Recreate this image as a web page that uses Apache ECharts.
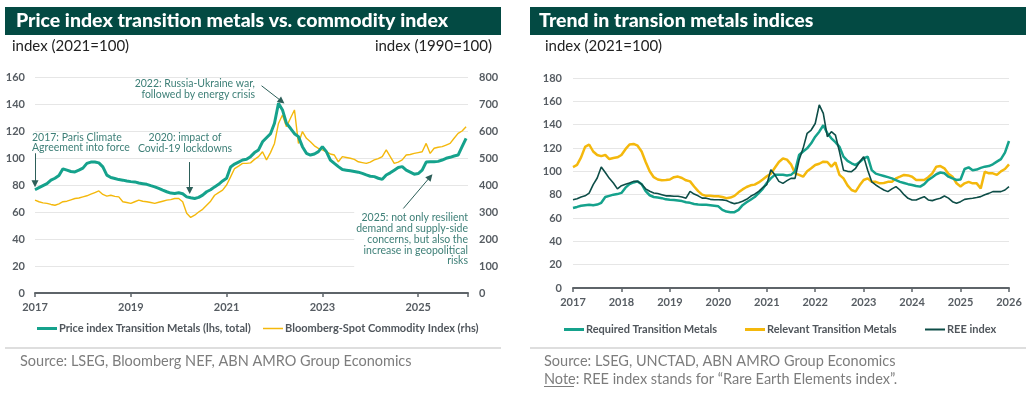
<!DOCTYPE html>
<html>
<head>
<meta charset="utf-8">
<script src="https://cdn.jsdelivr.net/npm/echarts@6/dist/echarts.min.js"></script>
<style>
html,body{margin:0;padding:0;background:#fff;}
#c{width:1031px;height:394px;}
</style>
</head>
<body>
<div id="c"></div>
<script>
// ---- Data (monthly, Jan 2017 .. Jan 2026) ----
const startYear = 2017;
const leftXTicks = [2017, 2019, 2021, 2023, 2025];
const rightXTicks = [2017, 2018, 2019, 2020, 2021, 2022, 2023, 2024, 2025, 2026];

// Left chart: Price index Transition Metals (lhs, total), index 2021=100
const priceIndexTM = [
  76.5,78,79.5,81,83.6,85,87,92,91,90,89.7,91,
  92.5,96,97,97,96.4,93.4,87.3,85.5,84.8,84,83.6,83,
  82.5,82.3,81.5,81,80.5,79.5,78.6,77.5,76.2,75,74,73.7,
  74.2,73.5,71.2,70.5,70,70.8,72.5,75,76.5,78.6,80.5,83,
  85,93.4,95.5,97,98.5,99,101,104,106,112,115,118,
  125.7,140.5,135.6,125.7,122,118,115.8,108.4,103.5,102.2,103,104.7,
  108.4,104.7,98.5,96,93.6,91.5,91,90.5,90,89.5,88.6,87.5,
  86.5,86.2,85,84.2,87.4,89,91,93,93.6,91,89.5,88,
  88.5,91,97,97.3,97.3,97.5,98.5,99.8,100.5,101.5,102.2,108.4,
  114.6
];
// Left chart: Bloomberg-Spot Commodity Index (rhs), index 1990=100
const bbgSpot = [
  344,338,334,332,328,325,330,338,340,345,350,352,
  356,360,366,372,378,365,359,362,358,356,338,335,
  332,338,344,340,338,335,332,336,340,344,346,350,
  350,338,295,280,288,300,310,325,340,362,372,381,
  400,430,461,470,480,480,482,495,505,523,493,520,
  554,628,659,616,647,678,554,598,573,560,545,536,
  530,523,515,511,486,505,502,499,495,486,483,480,
  485,493,498,505,530,505,480,485,493,511,513,517,
  520,523,554,517,536,540,542,548,554,573,591,600,
  616
];
// Right chart: Required Transition Metals
const requiredTM = [
  68.6,69.5,70.5,71,71.4,71,71.5,73,78,79,80,80.5,
  81.5,86,89,90.5,91.4,89,83,79.5,78,77.5,77,76,
  75.7,75.5,75,74.5,73.5,73,72,71.5,71.4,71.4,71,70.5,
  70,67,65.5,65,65,67,71,73.5,75.7,78,81.4,85,
  90,94,97,97,97,96.5,97,100,114,117,119.7,124,
  129.7,134,139.5,132.6,128.3,125,121,112.6,109,106.9,105.4,108,
  111,112.6,101,98,97,96,95,94,92.5,91,90,89,
  88.3,87.5,86.9,89,92.6,95,97.5,99,98.3,95.4,94,92.6,
  93,102,103.4,101,101.5,103,104,104.5,106,108.3,110.5,116,
  126
];
// Right chart: Relevant Transition Metals
const relevantTM = [
  103.7,105.5,112,121,123,117,114,113,114,110.5,111.4,112,
  114,119,123,123.5,122,117,108,100,95,93,92.3,92.5,
  93,95,95.5,94.3,92.3,91.4,87,83,80,79,79,78.6,
  78.6,78,77,77.5,79,82,84.5,86.6,88,88.6,90.5,93,
  95.7,98,103,108,111,110,106,98.3,96.9,95.4,100,102.6,
  105.4,106.5,108.3,108,104,107.7,97,94,88,84,82.6,88,
  92.6,94,91,91,89.7,90,91,91,94,95.4,96.9,96.5,
  95.4,92.6,92.6,92.6,95,98.3,104,104.5,102.6,98,95.4,89.7,
  87,89.7,91,89.7,89.7,85.4,99.7,98.3,98.3,97,100,102,
  106
];
// Right chart: REE index
const reeIndex = [
  75.7,76.5,78,79,81.4,88.6,94.3,103.7,99,94,90,85,
  87.7,89,90,91.4,91.4,89,85,82.9,81.4,81,80,79,
  79,78.6,78.6,78,77,82.9,80.5,79,77,77,76,75.7,
  75.7,75.5,75,73.4,72.3,73,74.3,76,78.6,80.5,82.9,86,
  88.6,101.4,97,91.4,89.7,92,94,94,109.7,119.7,132.6,135.4,
  141,156.9,149.7,129.7,134,131.1,116.9,101,100,99.7,102.6,108,
  112.6,101,91,88.3,86,84,82.6,85,86.9,84,80,76.9,
  75.4,75.4,77,78.3,75.5,74.9,76,76.9,78.9,77,74,72.6,
  74,76,76.5,76.9,77.5,78.3,80,81.1,82.6,82.6,82.6,84,
  86.9
];

// Annotation arrows (decimal year, lhs value) : [from, to]
const annotations = [
  {text: '2017: Paris Climate\nAgreement into force', from: [2017.0, 103.5], to: [2017.0, 81]},
  {text: '2020: impact of\nCovid-19 lockdowns', from: [2020.23, 97], to: [2020.23, 76]},
  {text: '2022: Russia-Ukraine war,\nfollowed by energy crisis', from: [2021.73, 153.5], to: [2022.15, 142]},
  {text: '2025: not only resilient\ndemand and supply-side\nconcerns, but also the\nincrease in geopolitical\nrisks', from: [2024.69, 62.6], to: [2025.25, 86]}
];

const toXY = arr => arr.map((v, i) => [startYear + i / 12, v]);

const TEAL = '#15a28c';
const YELLOW = '#f4b80c';
const DARK = '#0d4d47';
const BAR = '#034a43';
const TICK = '#565c62';
const FONT = 'Lato';

const chart = echarts.init(document.getElementById('c'), null, {renderer: 'canvas'});

const axisLabelStyle = {color: TICK, fontFamily: FONT, fontWeight: 'bold', fontSize: 11};
const splitLine = {show: true, lineStyle: {color: '#e6e6e6', width: 1}};

function xAxisCfg(gridIndex, max, interval, ticks) {
  return {
    type: 'value', gridIndex, min: startYear, max, interval,
    axisLine: {show: true, onZero: false, lineStyle: {color: '#5e6469', width: 2}},
    axisTick: {show: true, length: 4, lineStyle: {color: '#5e6469', width: 1.5}},
    splitLine: {show: false},
    axisLabel: Object.assign({}, axisLabelStyle, {
      margin: 9, showMaxLabel: true, hideOverlap: false,
      formatter: v => ticks.indexOf(Math.round(v * 1000) / 1000) >= 0 ? String(v) : ''
    })
  };
}

const legendBase = {
  orient: 'horizontal', itemWidth: 20, itemHeight: 3, itemGap: 0,
  textStyle: {color: '#50565c', fontFamily: FONT, fontWeight: 'bold', fontSize: 11, padding: [0, 0, 0, -3]},
  selectedMode: false, padding: 0
};

const textStyle = (extra) => Object.assign({fontFamily: FONT}, extra);

const option = {
  animation: false,
  backgroundColor: '#ffffff',
  textStyle: {fontFamily: FONT},
  grid: [
    {left: 35, top: 77, width: 433, height: 216, containLabel: false},
    {left: 573, top: 78, width: 436, height: 210, containLabel: false}
  ],
  xAxis: [
    xAxisCfg(0, 2026.04, 2, leftXTicks),
    xAxisCfg(1, 2026, 1, rightXTicks)
  ],
  yAxis: [
    {type: 'value', gridIndex: 0, min: 0, max: 160, interval: 20, position: 'left',
     axisLine: {show: false}, axisTick: {show: false}, splitLine,
     axisLabel: Object.assign({}, axisLabelStyle, {margin: 10})},
    {type: 'value', gridIndex: 0, min: 0, max: 800, interval: 100, position: 'right',
     axisLine: {show: false}, axisTick: {show: false}, splitLine: {show: false},
     axisLabel: Object.assign({}, axisLabelStyle, {margin: 11})},
    {type: 'value', gridIndex: 1, min: 0, max: 180, interval: 20, position: 'left',
     axisLine: {show: false}, axisTick: {show: false}, splitLine,
     axisLabel: Object.assign({}, axisLabelStyle, {margin: 11})}
  ],
  legend: [
    Object.assign({}, legendBase, {left: 37, top: 323, data: [{name: 'Price index Transition Metals (lhs, total)', icon: 'rect'}]}),
    Object.assign({}, legendBase, {left: 263, top: 323, data: [{name: 'Bloomberg-Spot Commodity Index (rhs)', icon: 'rect'}], itemHeight: 1.5}),
    Object.assign({}, legendBase, {left: 564, top: 324, data: [{name: 'Required Transition Metals', icon: 'rect'}]}),
    Object.assign({}, legendBase, {left: 745, top: 324, data: [{name: 'Relevant Transition Metals', icon: 'rect'}]}),
    Object.assign({}, legendBase, {left: 925, top: 324, data: [{name: 'REE index', icon: 'rect'}], itemHeight: 2})
  ],
  series: [
    {name: 'Bloomberg-Spot Commodity Index (rhs)', type: 'line', xAxisIndex: 0, yAxisIndex: 1,
     data: toXY(bbgSpot), showSymbol: false, symbol: 'none', z: 2,
     lineStyle: {color: YELLOW, width: 1.4}, itemStyle: {color: YELLOW}},
    {name: 'Price index Transition Metals (lhs, total)', type: 'line', xAxisIndex: 0, yAxisIndex: 0,
     data: toXY(priceIndexTM), showSymbol: false, symbol: 'none', z: 3,
     lineStyle: {color: TEAL, width: 3}, itemStyle: {color: TEAL},
     markLine: {
       silent: true, animation: false, symbol: ['none', 'triangle'], symbolSize: [7, 7],
       label: {show: false}, lineStyle: {color: '#2d5f59', width: 1, type: 'solid'},
       itemStyle: {color: '#1d4f4a'},
       data: annotations.map(a => [{coord: a.from}, {coord: a.to}])
     }},
    {name: 'Required Transition Metals', type: 'line', xAxisIndex: 1, yAxisIndex: 2,
     data: toXY(requiredTM), showSymbol: false, symbol: 'none', z: 3,
     lineStyle: {color: TEAL, width: 2.5}, itemStyle: {color: TEAL}},
    {name: 'Relevant Transition Metals', type: 'line', xAxisIndex: 1, yAxisIndex: 2,
     data: toXY(relevantTM), showSymbol: false, symbol: 'none', z: 2,
     lineStyle: {color: YELLOW, width: 2.5}, itemStyle: {color: YELLOW}},
    {name: 'REE index', type: 'line', xAxisIndex: 1, yAxisIndex: 2,
     data: toXY(reeIndex), showSymbol: false, symbol: 'none', z: 4,
     lineStyle: {color: DARK, width: 1.6}, itemStyle: {color: DARK}}
  ],
  graphic: [
    // title bars
    {type: 'rect', shape: {x: 5, y: 7, width: 496, height: 28}, style: {fill: BAR}, z: 0},
    {type: 'rect', shape: {x: 530, y: 7, width: 496, height: 28}, style: {fill: BAR}, z: 0},
    {type: 'text', x: 16, y: 21, style: textStyle({text: 'Price index transition metals vs. commodity index', fill: '#fff', fontSize: 19.5, fontWeight: 900, verticalAlign: 'middle'})},
    {type: 'text', x: 539, y: 21, style: textStyle({text: 'Trend in transion metals indices', fill: '#fff', fontSize: 19.5, fontWeight: 900, verticalAlign: 'middle'})},
    // axis unit labels
    {type: 'text', x: 12, y: 46, style: textStyle({text: 'index (2021=100)', fill: '#222', fontSize: 15, verticalAlign: 'middle'})},
    {type: 'text', x: 492, y: 46, style: textStyle({text: 'index (1990=100)', fill: '#222', fontSize: 15, verticalAlign: 'middle', align: 'right'})},
    {type: 'text', x: 545, y: 46, style: textStyle({text: 'index (2021=100)', fill: '#222', fontSize: 15, verticalAlign: 'middle'})},
    // annotations
    {type: 'text', x: 32, y: 142.5, style: textStyle({text: annotations[0].text, fill: '#3d7f77', fontSize: 10.5, lineHeight: 10.5, verticalAlign: 'middle'})},
    {type: 'text', x: 185, y: 143, style: textStyle({text: annotations[1].text, fill: '#3d7f77', fontSize: 10.5, lineHeight: 10.5, verticalAlign: 'middle', align: 'center'})},
    {type: 'text', x: 255, y: 89, style: textStyle({text: annotations[2].text, fill: '#3d7f77', fontSize: 10.5, lineHeight: 11.5, verticalAlign: 'middle', align: 'right'})},
    {type: 'text', x: 468, y: 239.5, z: 10, style: textStyle({text: annotations[3].text, fill: '#3d7f77', fontSize: 10.5, lineHeight: 10.7, verticalAlign: 'middle', align: 'right', backgroundColor: '#fff', padding: [1, 0, 1, 2]})},
    // separators
    {type: 'line', shape: {x1: 5, y1: 348, x2: 501, y2: 348}, style: {stroke: '#bdbdbd', lineWidth: 1}},
    {type: 'line', shape: {x1: 530, y1: 348, x2: 1026, y2: 348}, style: {stroke: '#bdbdbd', lineWidth: 1}},
    // sources
    {type: 'text', x: 20, y: 361, style: textStyle({text: 'Source: LSEG, Bloomberg NEF, ABN AMRO Group Economics', fill: '#7d7d7d', fontSize: 14.5, verticalAlign: 'middle'})},
    {type: 'text', x: 544, y: 361, style: textStyle({text: 'Source: LSEG, UNCTAD, ABN AMRO Group Economics', fill: '#7d7d7d', fontSize: 14.5, verticalAlign: 'middle'})},
    {type: 'text', x: 544, y: 379, style: textStyle({text: 'Note: REE index stands for \u201CRare Earth Elements index\u201D.', fill: '#7d7d7d', fontSize: 14.5, verticalAlign: 'middle'})},
    {type: 'line', shape: {x1: 544, y1: 386.5, x2: 574, y2: 386.5}, style: {stroke: '#7d7d7d', lineWidth: 1}}
  ]
};

chart.setOption(option);
</script>
</body>
</html>
